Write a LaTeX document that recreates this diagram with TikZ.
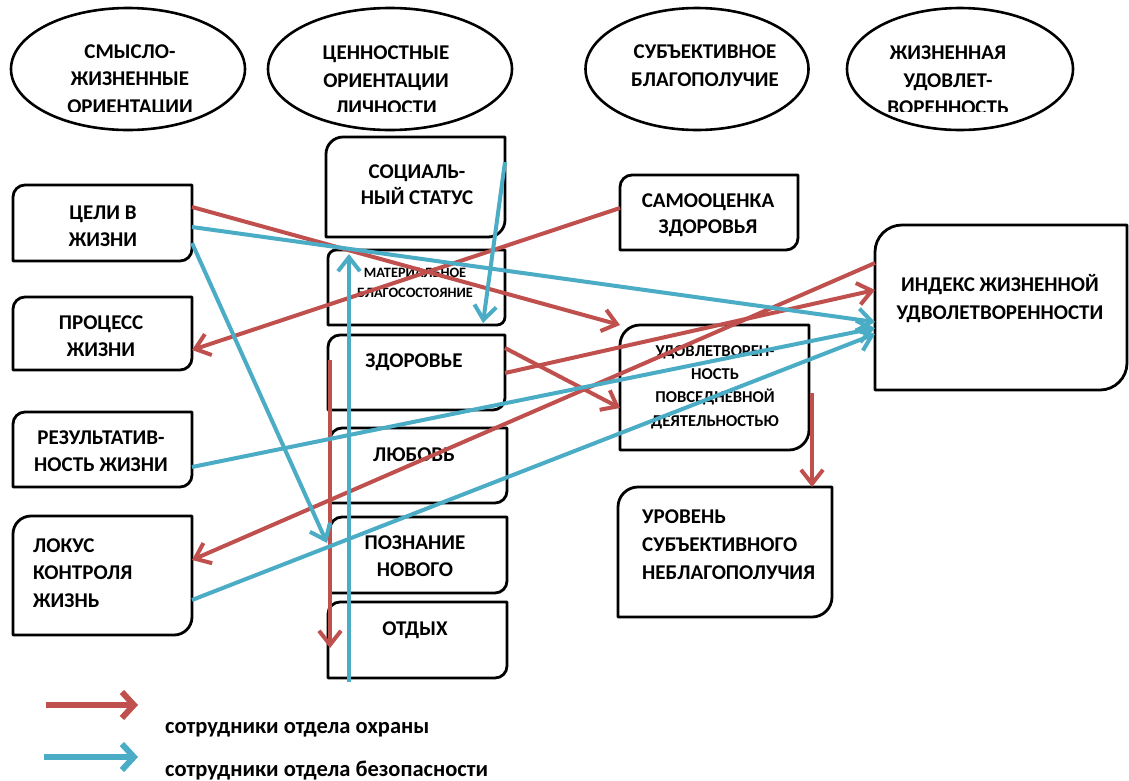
\documentclass[tikz,border=0pt]{standalone}
\usepackage{fontspec}
\setmainfont{Carlito}
\usetikzlibrary{arrows.meta,calc,shapes.geometric}

\definecolor{linkred}{HTML}{C0504D}
\definecolor{linkteal}{HTML}{4BACC6}

% outline with rounded top-left and bottom-right corners
\newcommand\diagcorners[2]{%
  \draw[boxline] ($(#1.north west)+(0,#2)$) arc[start angle=180,end angle=90,radius=#2pt]
    -- (#1.north east) -- ($(#1.south east)+(0,-#2)$)
    arc[start angle=0,end angle=-90,radius=#2pt] -- (#1.south west) -- cycle;}

\begin{document}
\begin{tikzpicture}[x=1pt,y=-1pt,
  boxline/.style={draw=black, line width=2.8pt, line join=round},
  box/.style={rectangle, inner sep=0pt, outer sep=0pt},
  oval/.style={ellipse, draw=black, line width=2.6pt, inner sep=0pt},
  lbl/.style={font=\fontsize{21}{27}\selectfont\bfseries, align=center, inner sep=0pt},
  ovtext/.style={font=\fontsize{21}{27.5}\selectfont\bfseries, align=center, inner sep=0pt},
  smalllbl/.style={font=\fontsize{14.3}{20}\selectfont\bfseries, align=center, inner sep=0pt},
  midlbl/.style={font=\fontsize{16.6}{23.3}\selectfont\bfseries, align=center, inner sep=0pt},
  keytext/.style={font=\fontsize{22.5}{26}\selectfont\bfseries, inner sep=0pt},
  redarrow/.style={draw=linkred, line width=4pt, -{Straight Barb[length=14pt,width=22pt]}},
  tealarrow/.style={draw=linkteal, line width=4pt, -{Straight Barb[length=14pt,width=22pt]}},
  redkey/.style={draw=linkred, line width=6pt, -{Straight Barb[length=12pt,width=26pt]}},
  tealkey/.style={draw=linkteal, line width=6pt, -{Straight Barb[length=12pt,width=26pt]}},
]
\useasboundingbox[fill=white] (0,0) rectangle (1129,780);

% ---- column headings
\node[oval, minimum width=234pt, minimum height=122pt] (ovMean) at (128,69) {};
\node[oval, minimum width=244pt, minimum height=122pt] (ovValue) at (390,69) {};
\node[oval, minimum width=223pt, minimum height=122pt] (ovWell) at (697,69) {};
\node[oval, minimum width=226pt, minimum height=122pt] (ovSat) at (960,69) {};
\begin{scope}
  \clip (0,0) rectangle (1129,111);
  \node[ovtext] (ovMeanT) at (130,80.5) {СМЫСЛО-\\ЖИЗНЕННЫЕ\\ОРИЕНТАЦИИ};
  \node[ovtext] (ovValueT) at (386,80.5) {ЦЕННОСТНЫЕ\\ОРИЕНТАЦИИ\\ЛИЧНОСТИ};
  \node[ovtext, font=\fontsize{21}{28}\selectfont\bfseries] (ovWellT) at (705,66) {СУБЪЕКТИВНОЕ\\БЛАГОПОЛУЧИЕ};
  \node[ovtext] (ovSatT) at (948,80.5) {ЖИЗНЕННАЯ\\УДОВЛЕТ-\\ВОРЕННОСТЬ};
\end{scope}

% ---- left column
\node[box, minimum width=179pt, minimum height=76pt] (goals) at (102.5,223) {};
\node[box, minimum width=179pt, minimum height=73pt] (process) at (102.5,333.5) {};
\node[box, minimum width=179pt, minimum height=75pt] (result) at (102.5,449.5) {};
\node[box, minimum width=179pt, minimum height=119pt] (locus) at (102.5,575.5) {};
\diagcorners{goals}{12}
\diagcorners{process}{12}
\diagcorners{result}{12}
\diagcorners{locus}{18}
\node[lbl] (goalsT) at (103,226) {ЦЕЛИ В\\ЖИЗНИ};
\node[lbl] (processT) at (101,336.5) {ПРОЦЕСС\\ЖИЗНИ};
\node[lbl] (resultT) at (101,451.5) {РЕЗУЛЬТАТИВ-\\НОСТЬ ЖИЗНИ};
\node[lbl, align=left, anchor=west, font=\fontsize{21}{27.5}\selectfont\bfseries] (locusT) at (33,573) {ЛОКУС\\КОНТРОЛЯ\\ЖИЗНЬ};

% ---- middle column
\node[box, minimum width=179pt, minimum height=100pt] (status) at (415.5,187) {};
\node[box, minimum width=177pt, minimum height=75pt] (wealth) at (416.5,287.5) {};
\node[box, minimum width=177pt, minimum height=75pt] (health) at (416.5,372.5) {};
\node[box, minimum width=177pt, minimum height=75pt] (love) at (418.5,465.5) {};
\node[box, minimum width=177pt, minimum height=76pt] (learning) at (418.5,555) {};
\node[box, minimum width=179pt, minimum height=76pt] (rest) at (417.5,640) {};
\diagcorners{status}{17}
\diagcorners{wealth}{8}
\diagcorners{health}{12}
\diagcorners{love}{12}
\diagcorners{learning}{12}
\diagcorners{rest}{12}
\node[lbl, font=\fontsize{21}{26}\selectfont\bfseries] (statusT) at (417,185) {СОЦИАЛЬ-\\НЫЙ СТАТУС};
\node[smalllbl] (wealthT) at (415,283) {МАТЕРИАЛЬНОЕ\\БЛАГОСОСТОЯНИЕ};
\node[lbl] (healthT) at (414,362) {ЗДОРОВЬЕ};
\node[lbl] (loveT) at (414,455) {ЛЮБОВЬ};
\node[lbl] (learningT) at (415,556.5) {ПОЗНАНИЕ\\НОВОГО};
\node[lbl] (restT) at (415,630) {ОТДЫХ};

% ---- right part
\node[box, minimum width=178pt, minimum height=75pt] (selfhealth) at (709,212.5) {};
\node[box, minimum width=189pt, minimum height=125pt] (daily) at (714.5,387.5) {};
\node[box, minimum width=214pt, minimum height=130pt] (distress) at (725,552) {};
\node[box, minimum width=252pt, minimum height=165pt] (index) at (1001,307.5) {};
\diagcorners{selfhealth}{12}
\diagcorners{daily}{20}
\diagcorners{distress}{20}
\diagcorners{index}{27}
\node[lbl, font=\fontsize{21}{26}\selectfont\bfseries] (selfhealthT) at (708,215) {САМООЦЕНКА\\ЗДОРОВЬЯ};
\node[midlbl] (dailyT) at (715,387) {УДОВЛЕТВОРЕН-\\НОСТЬ\\ПОВСЕДНЕВНОЙ\\ДЕЯТЕЛЬНОСТЬЮ};
\node[lbl, align=left, anchor=west, font=\fontsize{21}{28}\selectfont\bfseries] (distressT) at (642,545) {УРОВЕНЬ\\СУБЪЕКТИВНОГО\\НЕБЛАГОПОЛУЧИЯ};
\node[lbl, font=\fontsize{21}{28}\selectfont\bfseries] (indexT) at (1000,299) {ИНДЕКС ЖИЗНЕННОЙ\\УДВОЛЕТВОРЕННОСТИ};

% ---- links: security guards
\draw[redarrow] (goals.east |- 0,207) -- (daily.north west);
\draw[redarrow] (selfhealth.west |- 0,208) -- (process.east |- 0,350);
\draw[redarrow] (health.east |- 0,348) -- (daily.west |- 0,408);
\draw[redarrow] (health.east |- 0,373) -- (index.west |- 0,290);
\draw[redarrow] (index.west |- 0,263) -- (locus.east |- 0,560);
\draw[redarrow] ($(health.west |- 0,360)+(2,0)$) -- ($(rest.west |- 0,648)+(2,0)$);
\draw[redarrow] ($(daily.east |- 0,393)+(3,0)$) -- (distress.north -| 812,0);

% ---- links: security department
\draw[tealarrow] (goals.east |- 0,227) -- (index.west |- 0,322);
\draw[tealarrow] (goals.east |- 0,243) -- ($(learning.west |- 0,543)+(-3,0)$);
\draw[tealarrow] (result.east |- 0,467) -- (index.west |- 0,328);
\draw[tealarrow] (locus.east |- 0,600) -- (index.west |- 0,334);
\draw[tealarrow] ($(rest.south -| 349,0)+(0,4)$) -- ($(wealth.north -| 349,0)+(0,4)$);
\draw[tealarrow] (status.east |- 0,162) -- ($(wealth.south -| 483,0)+(0,-2)$);

% ---- key
\coordinate (keyRa) at (46,705);
\coordinate (keyRb) at (138,705);
\coordinate (keyTa) at (44,757);
\coordinate (keyTb) at (138,757);
\draw[redkey] (keyRa) -- (keyRb);
\draw[tealkey] (keyTa) -- (keyTb);
\node[keytext, anchor=base west] (keyRT) at (165,733) {сотрудники отдела охраны};
\node[keytext, anchor=base west] (keyTT) at (165,776) {сотрудники отдела безопасности};
\end{tikzpicture}
\end{document}
